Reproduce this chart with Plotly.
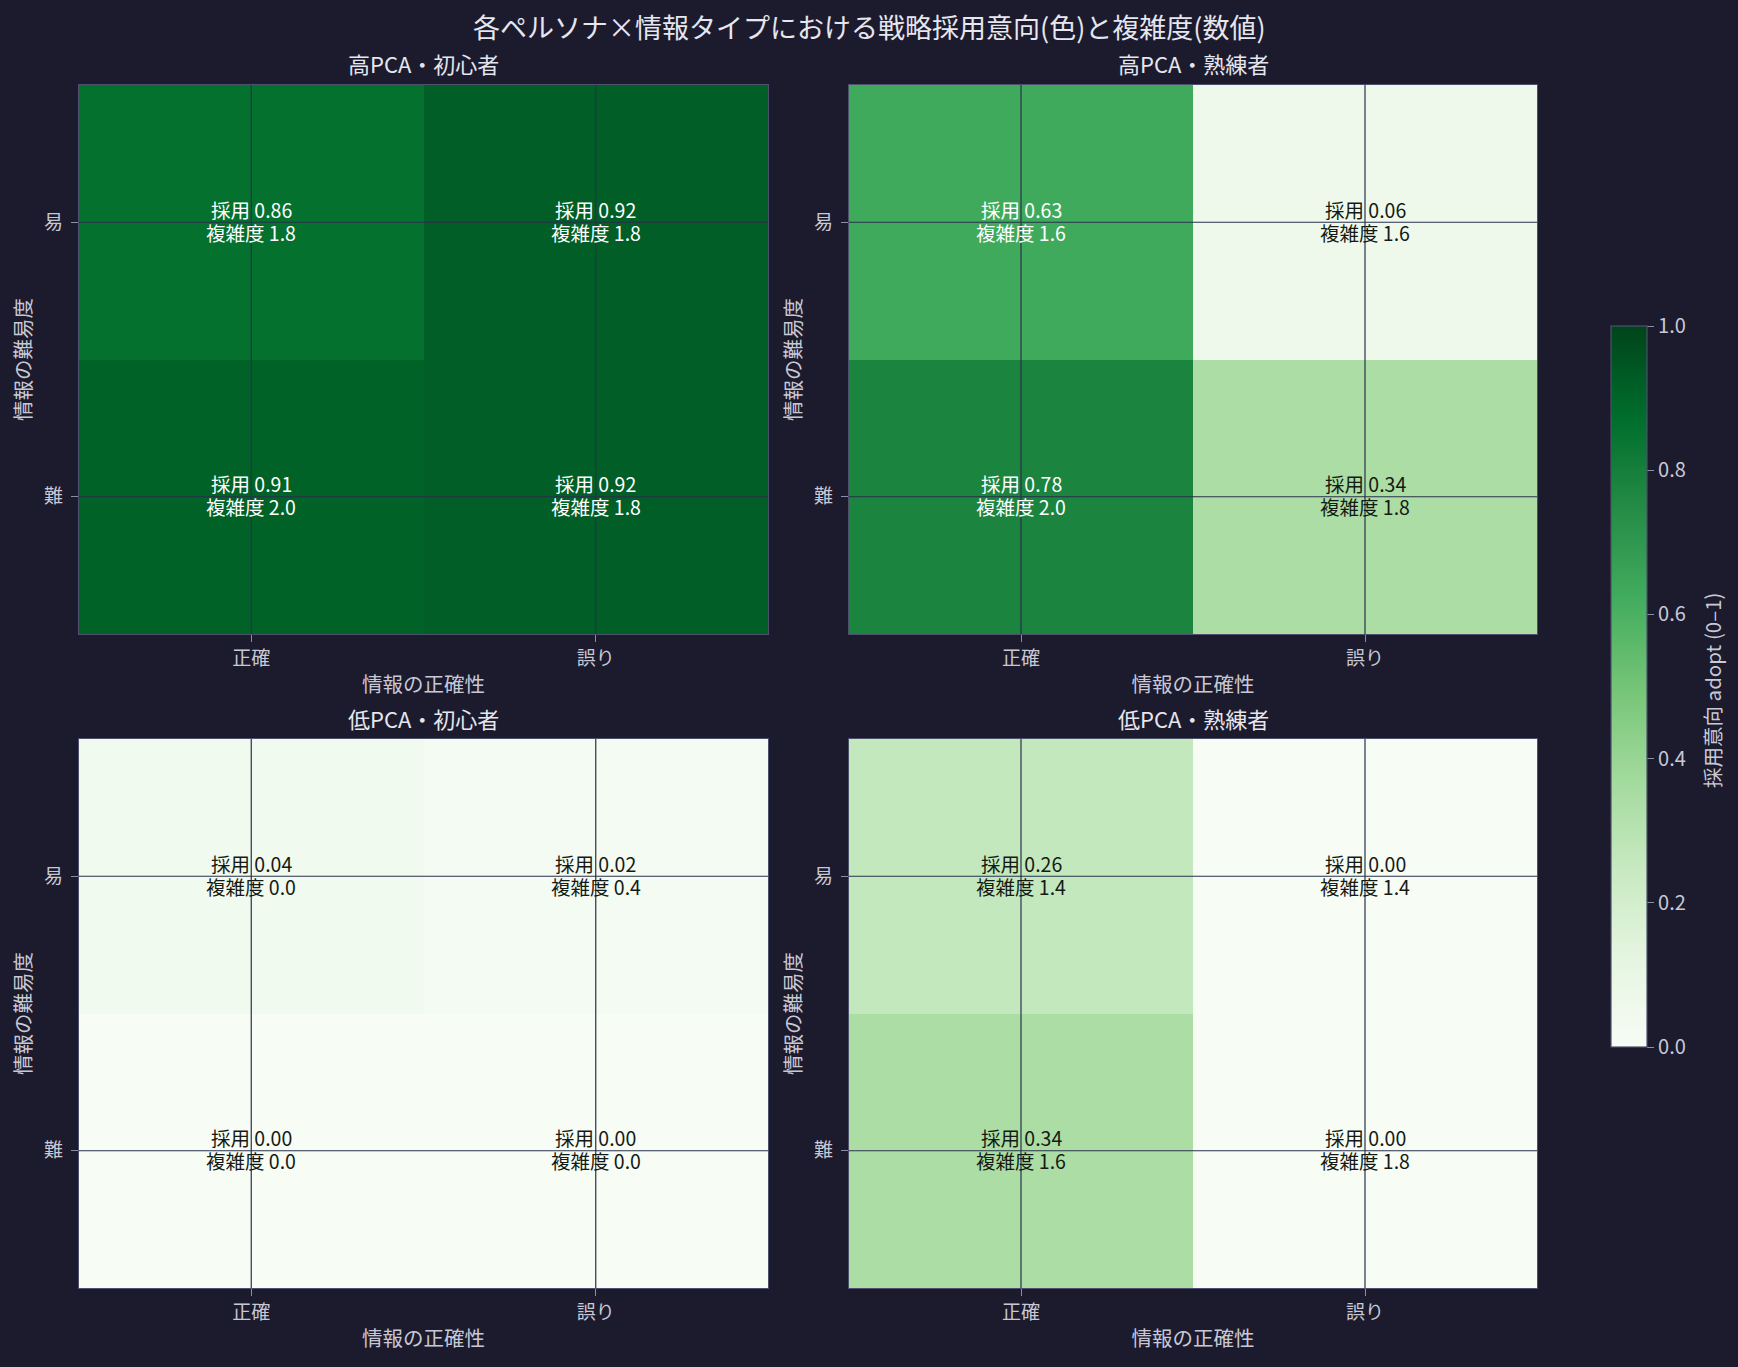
import plotly.graph_objects as go

# ---- data ----
accuracy = ["正確", "誤り"]          # x categories
difficulty = ["易", "難"]            # y categories (top to bottom)
panel_titles = ["高PCA・初心者", "高PCA・熟練者", "低PCA・初心者", "低PCA・熟練者"]

adopt_hi_nov = [[0.86, 0.92], [0.91, 0.92]]
adopt_hi_exp = [[0.63, 0.06], [0.78, 0.34]]
adopt_lo_nov = [[0.04, 0.02], [0.00, 0.00]]
adopt_lo_exp = [[0.26, 0.00], [0.34, 0.00]]

cx_hi_nov = [[1.8, 1.8], [2.0, 1.8]]
cx_hi_exp = [[1.6, 1.6], [2.0, 1.8]]
cx_lo_nov = [[0.0, 0.4], [0.0, 0.0]]
cx_lo_exp = [[1.4, 1.4], [1.6, 1.8]]

adopts = [adopt_hi_nov, adopt_hi_exp, adopt_lo_nov, adopt_lo_exp]
complexities = [cx_hi_nov, cx_hi_exp, cx_lo_nov, cx_lo_exp]

# ---- styling ----
W, H = 1738, 1367
BG = "#1c1b2e"
FONT = "Noto Sans CJK JP"
TICK_C = "#c9c9d6"
TITLE_C = "#e6e6ee"
FRAME_C = "#4c506a"
GRID_C = "#28314c"

greens = [
    [0.0, "#f7fcf5"], [0.125, "#e5f5e0"], [0.25, "#c7e9c0"], [0.375, "#a1d99b"],
    [0.5, "#74c476"], [0.625, "#41ab5d"], [0.75, "#238b45"], [0.875, "#006d2c"],
    [1.0, "#00441b"],
]

# panel boxes in pixels (left, right, top, bottom)
px_x = [(79, 768), (849, 1537)]
px_y = [(85, 634), (739, 1288)]

fig = go.Figure()
xs = list(range(len(accuracy)))
ys = list(range(len(difficulty)))

annotations = []
shapes = []
for k in range(4):
    r, c = divmod(k, 2)
    ax = "" if k == 0 else str(k + 1)
    xa, ya = "x" + ax, "y" + ax
    z = adopts[k]
    fig.add_trace(go.Heatmap(
        z=z, x=xs, y=ys, coloraxis="coloraxis", xaxis=xa, yaxis=ya,
        hoverinfo="skip", xgap=0, ygap=0,
    ))
    xd = [px_x[c][0] / W, px_x[c][1] / W]
    yd = [1 - px_y[r][1] / H, 1 - px_y[r][0] / H]
    axis_common = dict(showline=True, linecolor=FRAME_C, linewidth=1.2, mirror=True,
                       showgrid=False, zeroline=False, ticks="outside", ticklen=7,
                       tickcolor="#8a8ea6", tickfont=dict(size=19, color=TICK_C, family=FONT))
    fig.update_layout(**{
        ("xaxis" + ax): dict(domain=xd, anchor=ya, range=[-0.5, len(xs) - 0.5],
                             tickvals=xs, ticktext=accuracy, ticklabelstandoff=0,
                             title=dict(text="情報の正確性", font=dict(size=20.5, color=TICK_C, family=FONT), standoff=8),
                             **axis_common),
        ("yaxis" + ax): dict(domain=yd, anchor=xa, range=[len(ys) - 0.5, -0.5],
                             tickvals=ys, ticktext=difficulty, ticklabelstandoff=4,
                             title=dict(text="情報の難易度", font=dict(size=20.5, color=TICK_C, family=FONT), standoff=6),
                             **axis_common),
    })
    # grid lines on top of the image
    for xi in xs:
        shapes.append(dict(type="line", xref=xa, yref=ya + " domain", x0=xi, x1=xi, y0=0, y1=1,
                           line=dict(color=GRID_C, width=1.2), layer="above"))
    for yi in ys:
        shapes.append(dict(type="line", xref=xa + " domain", yref=ya, x0=0, x1=1, y0=yi, y1=yi,
                           line=dict(color=GRID_C, width=1.2), layer="above"))
    # cell text (two lines)
    for i in ys:
        for j in xs:
            v = z[i][j]
            col = "#ffffff" if v > 0.5 else "#141a14"
            annotations.append(dict(
                x=j, y=i, xref=xa, yref=ya, showarrow=False,
                xanchor="center", yanchor="middle", yshift=13,
                text=f"採用 {v:.2f}",
                font=dict(size=19.5, color=col, family=FONT),
            ))
            annotations.append(dict(
                x=j, y=i, xref=xa, yref=ya, showarrow=False,
                xanchor="center", yanchor="middle", yshift=-10,
                text=f"複雑度 {complexities[k][i][j]:.1f}",
                font=dict(size=19.5, color=col, family=FONT),
            ))
    # subplot title
    annotations.append(dict(
        x=(xd[0] + xd[1]) / 2, y=yd[1], xref="paper", yref="paper",
        xanchor="center", yanchor="middle",
        yshift=22 if r == 0 else 21, showarrow=False, text=panel_titles[k],
        font=dict(size=22, color=TITLE_C, family=FONT),
    ))

annotations.append(dict(
    x=0.5, y=1 - 27 / H, xref="paper", yref="paper", showarrow=False,
    xanchor="center", yanchor="middle",
    text="各ペルソナ×情報タイプにおける戦略採用意向(色)と複雑度(数値)",
    font=dict(size=27, color=TITLE_C, family=FONT),
))
# colorbar label
annotations.append(dict(
    x=1712 / W, y=1 - 690 / H, xref="paper", yref="paper", showarrow=False,
    xanchor="center", yanchor="middle", textangle=-90,
    text="採用意向 adopt (0–1)",
    font=dict(size=20.5, color=TICK_C, family=FONT),
))

fig.update_layout(
    width=W, height=H,
    margin=dict(l=0, r=0, t=0, b=0),
    paper_bgcolor=BG, plot_bgcolor=BG,
    font=dict(family=FONT, color=TICK_C),
    coloraxis=dict(
        colorscale=greens, cmin=0, cmax=1,
        colorbar=dict(
            x=1611 / W, xanchor="left", y=1 - 686.5 / H, yanchor="middle",
            len=721 / H, lenmode="fraction", thickness=36, thicknessmode="pixels",
            outlinecolor=FRAME_C, outlinewidth=1.2,
            ticks="outside", ticklen=7, tickcolor="#8a8ea6",
            tickvals=[0, 0.2, 0.4, 0.6, 0.8, 1.0], ticktext=["0.0", "0.2", "0.4", "0.6", "0.8", "1.0"],
            tickfont=dict(size=20, color=TICK_C, family=FONT),
            xpad=0, ypad=0,
        ),
    ),
    annotations=annotations,
    shapes=shapes,
)

fig.write_html("out.html")
